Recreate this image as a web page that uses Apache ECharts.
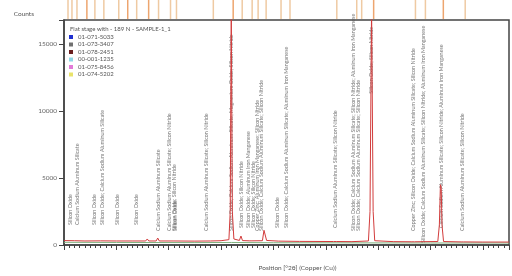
<!DOCTYPE html>
<html>
<head>
<meta charset="utf-8">
<script src="https://cdn.jsdelivr.net/npm/echarts@6/dist/echarts.min.js"></script>
<style>
  html, body { margin: 0; padding: 0; background: #fff; }
  #chart { width: 512px; height: 276px; }
</style>
</head>
<body>
<div id="chart"></div>
<script>
// measured scan (red) – 2theta / counts
const scanTheta = [5, 7, 9, 12, 15, 18, 20.6, 20.9, 21.2, 22.6, 22.9, 23.2, 26, 30, 33, 35,
  36.5, 36.75, 36.95, 37.15, 37.45, 37.8, 38.5, 38.8, 39.1, 40.5, 40.7, 40.9,
  42.9, 43.2, 43.4, 43.7, 46, 50, 56.5, 56.75, 57.0, 60,
  63.15, 63.45, 63.75, 64.05, 64.35, 68, 71.45, 71.7, 71.95,
  76.4, 76.7, 76.9, 77.05, 77.2, 77.5, 80.85, 81.1, 81.35, 85, 90]
const scanCounts = [330, 320, 300, 310, 300, 300, 300, 450, 300, 300, 520, 300, 300, 290, 300, 320,
  400, 2500, 17800, 2500, 450, 340, 340, 670, 330, 310, 450, 310,
  320, 1100, 1050, 340, 290, 270, 260, 330, 260, 250,
  300, 2500, 17800, 2500, 320, 250, 240, 350, 240,
  260, 1500, 4500, 4300, 1500, 260, 230, 330, 230, 220, 220]

// background (green)
const bgTheta = [5, 15, 30, 37, 45, 60, 75, 90]
const bgCounts = [200, 190, 180, 190, 170, 160, 150, 150]

// reference pattern sticks in the top strip
const refStrong = [9.34, 37.1, 63.75, 76.97, 17.09, 21.06]
const refWeak = [5.76, 6.51, 7.46, 10.86, 12.56, 15.39, 18.79, 22.94, 25.21, 26.34, 33.33,
  38.81, 40.7, 41.83, 43.35, 46.18, 47.88, 56.76, 60.54, 61.48, 71.68, 73.57, 81.12]

// peak annotations: position, baseline count, text
const labelTheta = [6.13, 7.46, 10.86, 12.37, 15.2, 18.79, 22.94, 25.02, 25.97, 26.34,
  32.2, 36.95, 38.81, 40.13, 41.07, 42.0, 42.7, 45.7, 47.4, 56.76,
  60.2, 61.3, 63.75, 71.68, 73.57, 76.97, 81.12]
const labelBase = [1490, 1490, 1490, 1490, 1490, 1490, 1050, 1050, 1050, 1050,
  1050, 1050, 1270, 1270, 1270, 1050, 1050, 1270, 1270, 1270,
  1050, 1050, 11300, 1050, 150, 1270, 1050]
const labelText = [
  'Silicon Oxide',
  'Calcium Sodium Aluminum Silicate',
  'Silicon Oxide',
  'Silicon Oxide; Calcium Sodium Aluminum Silicate',
  'Silicon Oxide',
  'Silicon Oxide',
  'Calcium Sodium Aluminum Silicate',
  'Calcium Sodium Aluminum Silicate; Silicon Nitride',
  'Silicon Oxide; Silicon Nitride',
  'Silicon Oxide',
  'Calcium Sodium Aluminum Silicate; Silicon Nitride',
  'Silicon Oxide; Calcium Sodium Aluminum Silicate; Magnesium Oxide; Silicon Nitride',
  'Silicon Oxide; Silicon Nitride',
  'Silicon Oxide; Aluminum Iron Manganese',
  'Silicon Oxide; Silicon Nitride',
  'Copper Zinc; Aluminum Iron Manganese; Silicon Nitride',
  'Silicon Oxide; Calcium Sodium Aluminum Silicate; Silicon Nitride',
  'Silicon Oxide',
  'Silicon Oxide; Calcium Sodium Aluminum Silicate; Aluminum Iron Manganese',
  'Calcium Sodium Aluminum Silicate; Silicon Nitride',
  'Silicon Oxide; Calcium Sodium Aluminum Silicate; Silicon Nitride; Aluminum Iron Manganese',
  'Silicon Oxide; Calcium Sodium Aluminum Silicate; Silicon Nitride',
  'Silicon Oxide; Silicon Nitride',
  'Copper Zinc; Silicon Oxide; Calcium Sodium Aluminum Silicate; Silicon Nitride',
  'Silicon Oxide; Calcium Sodium Aluminum Silicate; Silicon Nitride; Aluminum Iron Manganese',
  'Calcium Sodium Aluminum Silicate; Silicon Nitride; Aluminum Iron Manganese',
  'Calcium Sodium Aluminum Silicate; Silicon Nitride'
]

const sampleName = 'Flat stage with - 189 N - SAMPLE-1_1'
const refCodes = ['01-071-5033', '01-073-3407', '01-078-2451', '00-001-1235', '01-075-8456', '01-074-5202']
const refColors = ['#1f2fd0', '#707070', '#6a1f1f', '#8fd8e6', '#e27ad8', '#e9e36a']

const pair = (xs, ys) => xs.map((x, i) => [x, ys[i]])
const font = 'Lato, "Liberation Sans", sans-serif'

const chart = echarts.init(document.getElementById('chart'))
chart.setOption({
  animation: false,
  backgroundColor: '#fff',
  title: {
    text: sampleName,
    left: 65,
    top: 21,
    textStyle: { fontSize: 6, fontWeight: 'normal', color: '#555', fontFamily: font }
  },
  legend: {
    data: refCodes,
    orient: 'vertical',
    left: 64,
    top: 29,
    itemWidth: 4,
    itemHeight: 4,
    itemGap: 1.5,
    itemTextGap: 5,
    icon: 'rect',
    textStyle: { fontSize: 6, color: '#555', fontFamily: font }
  },
  grid: [
    { left: 64, top: 20, right: -3, bottom: 28, show: true, borderColor: '#444', borderWidth: 1.5 },
    { left: 64, top: 0, right: -3, height: 19 }
  ],
  xAxis: [
    {
      type: 'value',
      gridIndex: 0,
      min: 5,
      max: 90,
      interval: 10,
      name: 'Position [°2θ] (Copper (Cu))',
      nameLocation: 'middle',
      nameGap: 19,
      nameTextStyle: { fontSize: 6.5, color: '#555', fontFamily: font, padding: [0, 0, 0, 22] },
      axisLine: { lineStyle: { color: '#444', width: 1.5 } },
      axisTick: { length: 5, lineStyle: { color: '#444' } },
      minorTick: { show: true, splitNumber: 10, length: 3, lineStyle: { color: '#444' } },
      axisLabel: { fontSize: 6.5, color: '#666', margin: 7, fontFamily: font,
        formatter: v => (v % 10 === 0 && v > 5 && v < 90 ? v : '') },
      splitLine: { show: false }
    },
    { type: 'value', gridIndex: 1, min: 5, max: 90, show: false }
  ],
  yAxis: [
    {
      type: 'value',
      gridIndex: 0,
      min: 0,
      max: 16800,
      interval: 5000,
      name: 'Counts',
      nameLocation: 'end',
      nameGap: 3,
      nameTextStyle: { fontSize: 6.5, color: '#555', fontFamily: font, align: 'right', padding: [0, 30, 0, 0] },
      axisLine: { show: true, lineStyle: { color: '#444', width: 1.5 } },
      axisTick: { show: true, length: 5, lineStyle: { color: '#444' } },
      axisLabel: { fontSize: 6.5, color: '#666', margin: 7, fontFamily: font,
        formatter: v => (v % 5000 === 0 ? v : '') },
      splitLine: { show: false }
    },
    { type: 'value', gridIndex: 1, min: 0, max: 1, show: false }
  ],
  series: [
    {
      name: 'background',
      type: 'line',
      data: pair(bgTheta, bgCounts),
      symbol: 'none',
      lineStyle: { color: '#7fb27f', width: 1 },
      z: 3
    },
    {
      name: sampleName,
      type: 'line',
      data: pair(scanTheta, scanCounts),
      symbol: 'none',
      lineStyle: { color: '#d23c3c', width: 1 },
      z: 4
    },
    {
      name: 'labels',
      type: 'scatter',
      symbolSize: 0,
      data: labelTheta.map((t, i) => ({ name: labelText[i], value: [t, labelBase[i]] })),
      label: {
        show: true,
        formatter: '{b}',
        position: [0, 0],
        rotate: 90,
        align: 'left',
        verticalAlign: 'middle',
        fontSize: 5.4,
        color: '#555',
        fontFamily: font
      },
      z: 2,
      silent: true
    },
    {
      type: 'bar',
      xAxisIndex: 1,
      yAxisIndex: 1,
      barWidth: 1.5,
      data: refWeak.map(t => [t, 1]),
      itemStyle: { color: '#efcaa3' }
    },
    {
      type: 'bar',
      xAxisIndex: 1,
      yAxisIndex: 1,
      barWidth: 1.5,
      barGap: '-100%',
      data: refStrong.map(t => [t, 1]),
      itemStyle: { color: '#eda56f' }
    }
  ].concat(refCodes.map((c, i) => ({
    name: c,
    type: 'line',
    data: [],
    itemStyle: { color: refColors[i] }
  })))
})
</script>
</body>
</html>
